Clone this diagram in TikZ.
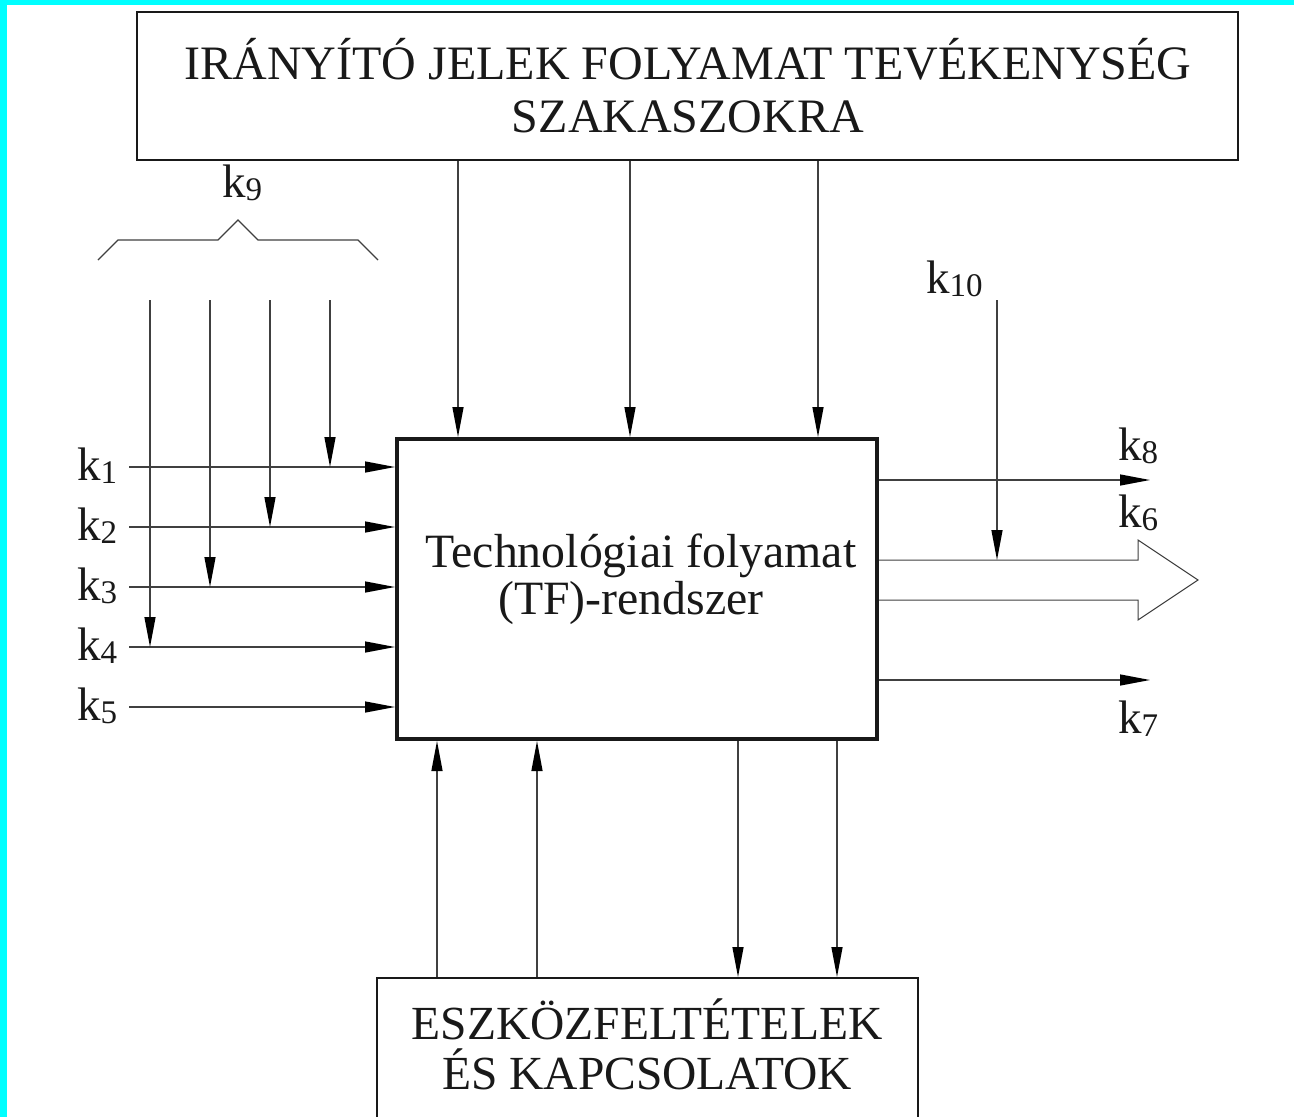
\documentclass[tikz,border=0pt]{standalone}
\usepackage{fontspec}
\setmainfont{Liberation Serif}
\usetikzlibrary{arrows.meta}
\definecolor{aqua}{RGB}{0,255,255}
\newcommand\ksub[1]{\raisebox{-3pt}{\fontsize{33}{33}\selectfont #1}}
\begin{document}
\begin{tikzpicture}[x=1pt,y=-1pt,
  thinline/.style={line width=1.3pt, draw=black!75},
  arr/.style={thinline, -{Triangle[length=30pt,width=11pt,black]}},
  big/.style={font=\fontsize{48}{53}\selectfont, text=black!90},
  lab/.style={font=\fontsize{47}{50}\selectfont, text=black!90, inner sep=0pt, anchor=base west},
  box/.style={draw=black!90, line width=2pt, inner sep=0pt},
]
\useasboundingbox (0,0) rectangle (1294,1117);
\clip (0,0) rectangle (1294,1117);
\fill[white] (0,0) rectangle (1294,1117);
\fill[aqua] (0,0) rectangle (1294,5);
\fill[aqua] (0,0) rectangle (7,1117);

% boxes
\node[box, minimum width=1101pt, minimum height=148pt] (ctrl) at (687.5,86) {};
\node[big, align=center, inner sep=0pt] (ctrltxt) at (688,86) {IRÁNYÍTÓ JELEK FOLYAMAT TEVÉKENYSÉG\\SZAKASZOKRA};

\node[box, line width=4pt, minimum width=480pt, minimum height=300pt] (tf) at (637,589) {};
\node[big, align=center, inner sep=0pt, font=\fontsize{47.8}{47}\selectfont] (tftxt) at (641,579) {Technológiai folyamat\\(TF)-rendszer\hspace*{20pt}};

\node[box, minimum width=541pt, minimum height=160pt] (eq) at (647.5,1058) {};
\node[big, align=center, inner sep=0pt, font=\fontsize{47.5}{50}\selectfont] (eqtxt) at (647,1044) {ESZKÖZFELTÉTELEK\\ÉS KAPCSOLATOK};

% top control arrows
\foreach \x in {458,630,818} \draw[arr] (\x,0 |- ctrl.south) -- (\x,0 |- tf.north);

% k9 brace
\node[lab] (k9) at (222,197) {k\ksub{9}};
\draw[thinline] (98,260) -- (118,240) -- (218,240) -- (238,220) -- (258,240) -- (358,240) -- (378,260);

% inputs
\coordinate (s1) at (129,467);
\coordinate (s2) at (129,527);
\coordinate (s3) at (129,587);
\coordinate (s4) at (129,647);
\coordinate (s5) at (129,707);
\foreach \i in {1,...,5} \draw[arr] (s\i) -- (s\i -| tf.west);
\node[lab] (k1) at (77,480) {k\ksub{1}};
\node[lab] (k2) at (77,540) {k\ksub{2}};
\node[lab] (k3) at (77,600) {k\ksub{3}};
\node[lab] (k4) at (77,660) {k\ksub{4}};
\node[lab] (k5) at (77,720) {k\ksub{5}};

\coordinate (v1) at (330,300);
\coordinate (v2) at (270,300);
\coordinate (v3) at (210,300);
\coordinate (v4) at (150,300);
\foreach \i in {1,...,4} \draw[arr] (v\i) -- (v\i |- s\i);

% outputs
\coordinate (o8) at (1150,480);
\coordinate (o7) at (1150,680);
\draw[arr] (tf.east |- o8) -- (o8);
\draw[arr] (tf.east |- o7) -- (o7);
\coordinate (k6tip) at (1198,580);
\draw[thinline, line width=1pt] (tf.east |- 0,560) -- (1138,560) -- (1138,540) -- (k6tip) -- (1138,620) -- (1138,600) -- (tf.east |- 0,600);
\node[lab] (k8) at (1118,460) {k\ksub{8}};
\node[lab] (k6) at (1118,527) {k\ksub{6}};
\node[lab] (k7) at (1118,733) {k\ksub{7}};

\coordinate (t10) at (997,300);
\draw[arr] (t10) -- (t10 |- 0,560);
\node[lab] (k10) at (926,293) {k\ksub{10}};

% bottom connections
\foreach \x in {437,537} \draw[arr] (\x,0 |- eq.north) -- (\x,0 |- tf.south);
\foreach \x in {738,837} \draw[arr] (\x,0 |- tf.south) -- (\x,0 |- eq.north);
\end{tikzpicture}
\end{document}
